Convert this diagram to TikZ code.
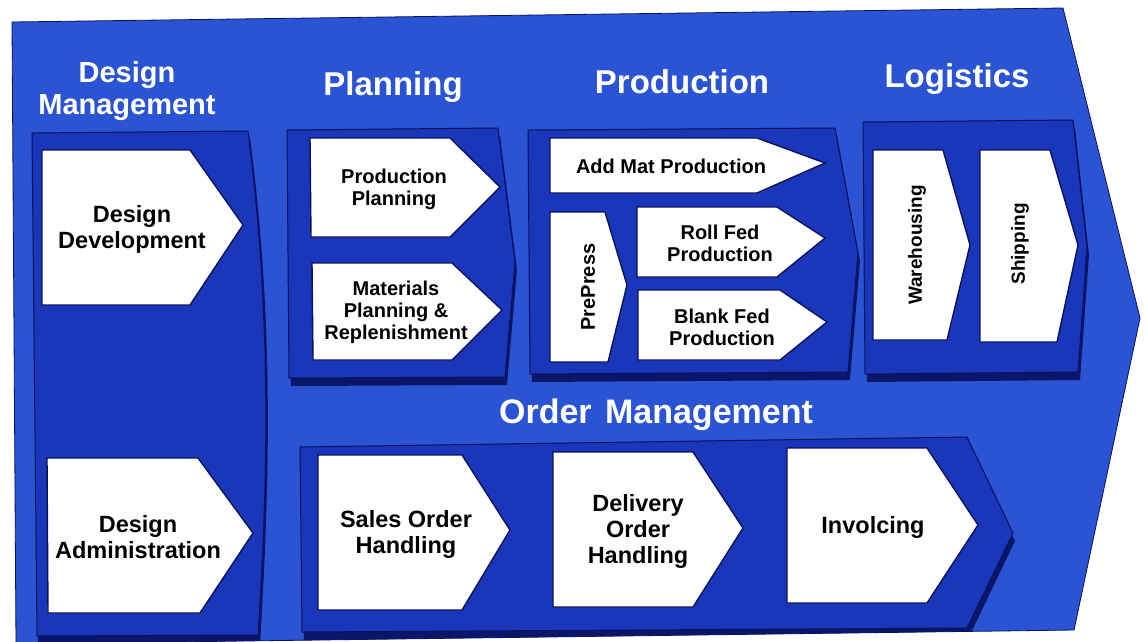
\documentclass[tikz,border=0pt]{standalone}
\usepackage{fontspec}
\setmainfont{Liberation Sans}
\definecolor{outerblue}{RGB}{42,84,212}
\definecolor{panelblue}{RGB}{26,54,186}
\definecolor{shadowblue}{RGB}{10,22,105}
\definecolor{edgeblue}{RGB}{10,18,90}
\begin{document}
\begin{tikzpicture}[x=1pt,y=-1pt,
  outershape/.style={fill=outerblue,draw=edgeblue,line width=0.8pt},
  panelshape/.style={fill=panelblue,draw=edgeblue,line width=1pt},
  panelshadow/.style={fill=shadowblue},
  whitebox/.style={fill=white,draw=edgeblue,line width=1.4pt,line join=miter},
  titletext/.style={text=white,font=\fontsize{33}{36}\selectfont\bfseries,inner sep=0pt},
  bigtext/.style={text=black,font=\fontsize{23.5}{26}\selectfont\bfseries,align=center,inner sep=0pt},
  smalltext/.style={text=black,font=\fontsize{20}{22}\selectfont\bfseries,align=center,inner sep=0pt}]
\useasboundingbox (0,0) rectangle (1147,641);
\fill[white] (0,0) rectangle (1147,641);
% outer arrow
\draw[outershape] (12,22) -- (1063,8) -- (1140,318) -- (1074,630) -- (16,644) -- cycle;
\begin{scope}
\clip (12,22) -- (1063,8) -- (1140,318) -- (1074,630) -- (16,644) -- cycle;
% panel shadows
\fill[panelshadow] (34,140) -- (250,138) .. controls (274,320) and (270,480) .. (260,645) -- (38,645) -- cycle;
\fill[panelshadow] (289,138) -- (500,136) -- (517,270) -- (507,385) -- (291,386) -- cycle;
\fill[panelshadow] (530,138) -- (837,136) -- (860,261) -- (850,380) -- (532,382) -- cycle;
\fill[panelshadow] (865,130) -- (1075,128) -- (1089,255) -- (1080,380) -- (867,382) -- cycle;
\fill[panelshadow] (302,455) -- (969,445) -- (1015,541) -- (969,637) -- (304,641) -- cycle;
\end{scope}
% panels
\draw[panelshape] (32,133) -- (248,131) .. controls (272,320) and (268,480) .. (258,635) -- (37,636) -- cycle;
\draw[panelshape] (287,130) -- (498,128) -- (515,262) -- (505,377) -- (289,378) -- cycle;
\draw[panelshape] (528,130) -- (835,128) -- (858,253) -- (848,372) -- (530,374) -- cycle;
\draw[panelshape] (863,122) -- (1073,120) -- (1087,247) -- (1078,372) -- (865,374) -- cycle;
\draw[panelshape] (300,447) -- (967,437) -- (1013,533) -- (967,628) -- (302,632) -- cycle;
% white process boxes
\draw[whitebox] (42,150) -- (190,150) -- (243,225) -- (190,305) -- (42,305) -- cycle;
\draw[whitebox] (47,458) -- (198,458) -- (253,533) -- (200,613) -- (48,613) -- cycle;
\draw[whitebox] (310,138) -- (450,138) -- (500,187) -- (450,237) -- (311,237) -- cycle;
\draw[whitebox] (312,263) -- (452,263) -- (502,310) -- (452,360) -- (313,360) -- cycle;
\draw[whitebox] (550,138) -- (757,138) -- (825,163) -- (757,193) -- (550,193) -- cycle;
\draw[whitebox] (550,212) -- (605,212) -- (627,285) -- (608,362) -- (550,362) -- cycle;
\draw[whitebox] (637,207) -- (777,207) -- (825,238) -- (777,277) -- (637,277) -- cycle;
\draw[whitebox] (638,290) -- (780,290) -- (827,322) -- (780,360) -- (638,360) -- cycle;
\draw[whitebox] (873,150) -- (943,150) -- (970,245) -- (947,340) -- (873,340) -- cycle;
\draw[whitebox] (980,150) -- (1050,150) -- (1078,245) -- (1057,342) -- (980,342) -- cycle;
\draw[whitebox] (318,455) -- (462,455) -- (510,530) -- (462,610) -- (318,610) -- cycle;
\draw[whitebox] (553,452) -- (693,452) -- (743,528) -- (693,607) -- (553,607) -- cycle;
\draw[whitebox] (787,448) -- (927,448) -- (978,525) -- (927,603) -- (787,603) -- cycle;
% titles
\node[titletext,font=\fontsize{29}{32}\selectfont\bfseries,align=center] (tdm) at (127,91) {Design\\Management};
\node[titletext] (tpl) at (393,87) {Planning};
\node[titletext] (tpr) at (682,82) {Production};
\node[titletext] (tlo) at (957,79) {Logistics};
\node[titletext,font=\fontsize{34}{36}\selectfont\bfseries] (tom) at (656,415) {Order\hspace{4pt} Management};
% box texts
\node[bigtext] (dd) at (132,229) {Design\\Development};
\node[bigtext] (da) at (138,537) {Design\\Administration};
\node[smalltext] (pp) at (394,189) {Production\\Planning};
\node[smalltext] (mp) at (396,312) {Materials\\Planning \&\\Replenishment};
\node[smalltext] (am) at (671,166) {Add Mat Production};
\node[smalltext,rotate=90] (pre) at (588,287) {PrePress};
\node[smalltext] (rf) at (720,243) {Roll Fed\\Production};
\node[smalltext] (bf) at (722,327) {Blank Fed\\Production};
\node[smalltext,font=\fontsize{19}{21}\selectfont\bfseries,rotate=90] (wh) at (917,245) {Warehousing};
\node[smalltext,font=\fontsize{19}{21}\selectfont\bfseries,rotate=90] (sh) at (1020,244) {Shipping};
\node[bigtext] (so) at (406,534) {Sales Order\\Handling};
\node[bigtext] (do) at (638,531) {Delivery\\Order\\Handling};
\node[bigtext] (inv) at (873,527) {Involcing};
\end{tikzpicture}
\end{document}
